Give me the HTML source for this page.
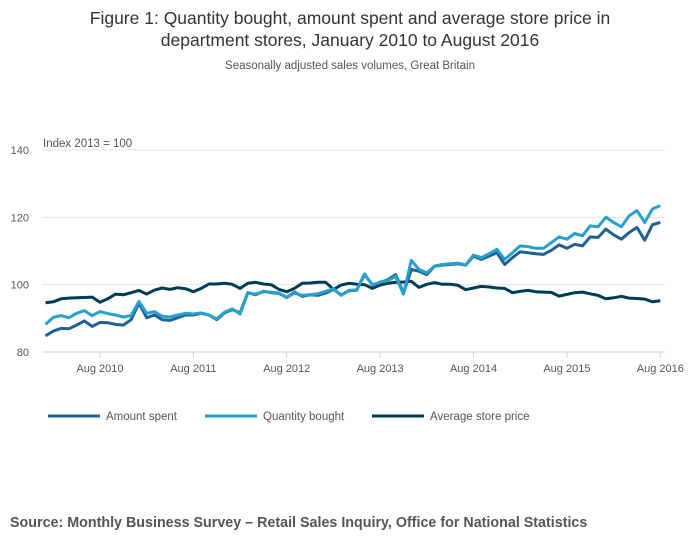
<!DOCTYPE html>
<html><head><meta charset="utf-8"><style>
body{margin:0;background:#fff;font-family:"Liberation Sans",sans-serif;}
#wrap{position:relative;width:700px;height:549px;overflow:hidden;}
</style></head><body>
<div id="wrap">
<svg id="chart" width="700" height="549">
<text x="350" y="24" text-anchor="middle" font-size="17.5" fill="#333">Figure 1: Quantity bought, amount spent and average store price in</text>
<text x="350" y="46" text-anchor="middle" font-size="17.5" fill="#333">department stores, January 2010 to August 2016</text>
<text x="350" y="69" text-anchor="middle" font-size="11.5" fill="#555">Seasonally adjusted sales volumes, Great Britain</text>
<text x="43" y="147" font-size="11.5" fill="#555">Index 2013 = 100</text>
<g id="grid"></g><g id="xaxis"></g><g id="lines"></g><g id="legend"></g>
<text x="10" y="527" font-size="14.3" font-weight="bold" fill="#555">Source: Monthly Business Survey – Retail Sales Inquiry, Office for National Statistics</text>
</svg>
</div>
<script>
const yTicks=[80,100,120,140];
const xTickLabels=["Aug 2010","Aug 2011","Aug 2012","Aug 2013","Aug 2014","Aug 2015","Aug 2016"];
const xTickIdx=[7,19,31,43,55,67,79];
const seriesNames=["Amount spent","Quantity bought","Average store price"];
const amountSpent=[84.8,86.2,87.0,86.9,88.0,89.2,87.6,88.8,88.7,88.2,88.0,89.6,
94.5,90.2,91.0,89.6,89.4,90.2,91.0,91.0,91.5,91.0,89.6,91.6,
92.6,91.6,97.6,97.0,98.0,97.6,97.4,96.2,97.8,96.5,97.0,96.8,
97.5,98.6,97.0,98.2,98.4,103.0,100.0,100.6,101.5,103.0,97.5,104.5,
104.0,103.0,105.5,105.8,106.0,106.2,105.8,108.5,107.5,108.5,109.5,106.0,
108.0,109.8,109.5,109.2,109.0,110.2,111.8,110.8,112.0,111.5,114.2,114.0,
116.5,114.8,113.5,115.5,117.0,113.2,117.8,118.5];
const quantityBought=[88.2,90.3,90.8,90.2,91.5,92.3,90.8,92.0,91.4,91.0,90.4,90.8,
95.0,91.5,92.0,90.6,90.4,91.0,91.5,91.3,91.6,91.0,89.8,91.8,
92.8,91.3,97.5,97.2,97.9,97.8,97.5,96.2,97.5,96.8,97.0,97.3,
98.0,98.8,96.8,98.3,98.5,103.2,99.8,100.8,101.2,102.5,97.2,107.2,
104.5,103.5,105.5,106.0,106.2,106.4,105.8,108.8,108.0,109.2,110.5,107.5,
109.5,111.5,111.3,110.8,110.8,112.5,114.2,113.5,115.2,114.5,117.5,117.2,
120.0,118.5,117.2,120.5,122.0,118.5,122.5,123.5];
const averagePrice=[94.6,94.9,95.8,96.0,96.1,96.2,96.3,94.8,95.8,97.2,97.0,97.6,
98.3,97.2,98.4,99.0,98.6,99.1,98.8,97.9,98.9,100.2,100.2,100.4,
100.1,98.9,100.4,100.7,100.2,100.0,98.6,97.9,98.9,100.4,100.5,100.7,
100.7,98.6,99.9,100.4,100.1,100.0,98.9,99.9,100.4,100.7,100.8,101.0,
99.2,100.1,100.6,100.1,100.1,99.8,98.5,99.0,99.5,99.3,99.0,98.9,
97.6,98.0,98.3,97.9,97.8,97.7,96.6,97.1,97.6,97.8,97.3,96.8,
95.8,96.1,96.5,96.0,95.9,95.7,94.9,95.2];
const NS="http://www.w3.org/2000/svg";
function mk(t,a,p){const e=document.createElementNS(NS,t);for(const k in a)e.setAttribute(k,a[k]);p.appendChild(e);return e;}
const X=i=>45.5+i*(660.3-45.5)/79;
const Y=v=>352-(v-80)*(202/60);
const grid=document.getElementById('grid');
yTicks.forEach(v=>{
  const l=mk('line',{x1:42,x2:665,y1:Y(v),y2:Y(v),stroke:v===80?'#c8d6e8':'#e4e4e4','stroke-width':1},grid);
  
  
  const t=mk('text',{x:29,y:Y(v)+4,'font-size':11,fill:'#555','text-anchor':'end'},grid);t.textContent=v;
  
  
});
const xa=document.getElementById('xaxis');
xTickIdx.forEach((idx,k)=>{
  const tk=mk('line',{x1:X(idx),x2:X(idx),y1:352,y2:358,stroke:'#c8d6e8'},xa);
  
  
  const t=mk('text',{x:X(idx),y:372,'font-size':11,fill:'#555','text-anchor':'middle'},xa);t.textContent=xTickLabels[k];
  
  
});
const colors=['#206095','#27a0cc','#003c57'];
const data=[amountSpent,quantityBought,averagePrice];
const lines=document.getElementById('lines');
[2,0,1].forEach(s=>{
  const d=data[s].map((v,i)=>(i?'L':'M')+X(i).toFixed(1)+','+Y(v).toFixed(1)).join('');
  const p=mk('path',{d:d,fill:'none',stroke:colors[s],'stroke-width':3,'stroke-linejoin':'round'},lines);
  
  
});
const lg=document.getElementById('legend');
const lx=[48,205,372];
seriesNames.forEach((n,s)=>{
  const l=mk('line',{x1:lx[s],x2:lx[s]+52,y1:416,y2:416,stroke:colors[s],'stroke-width':3},lg);
  
  
  const t=mk('text',{x:lx[s]+58,y:420,'font-size':11.5,fill:'#555'},lg);t.textContent=n;
  
  
});
</script>
</body></html>
